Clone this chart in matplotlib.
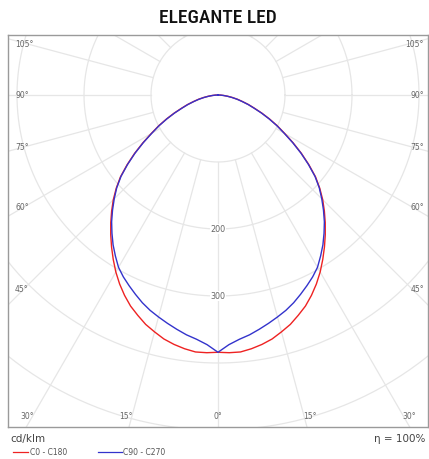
import numpy as np
import matplotlib
matplotlib.use('Agg')
import matplotlib.pyplot as plt
from matplotlib import font_manager
from matplotlib.lines import Line2D

# luminous intensity (cd/klm) vs gamma angle in degrees, symmetric halves
gamma = [0, 2.5, 5, 7.5, 10, 12.5, 15, 17.5, 20, 22.5, 25, 27.5, 30, 32.5, 35, 37.5, 40,
         42.5, 45, 47.5, 50, 52.5, 55, 57.5, 60, 62.5, 65, 67.5, 70, 72.5, 75, 77.5, 80,
         82.5, 85, 87.5, 90]
c0_c180 = [384, 385, 385, 382, 378, 373, 366, 359, 350, 341, 330, 318, 305, 291, 277, 263, 249,
           235, 221, 206, 190, 171, 152, 133, 115, 100, 85, 71, 58, 48, 38, 30, 22,
           15, 9, 4, 0]
c90_c270 = [384, 373, 366, 361, 355, 349, 343, 337, 330, 322, 314, 306, 297, 285, 273, 260, 247,
            233, 219, 205, 189, 170, 151, 132, 114, 99, 84, 70, 57, 47, 37, 29, 21,
            14, 8, 4, 0]

rings = [100, 200, 300, 400, 500, 600]
ring_labels = [200, 300]
spokes = np.arange(0, 360, 15)
bottom_ticks = [0, 15, 30]
side_ticks = [45, 60, 75, 90, 105]

W, H = 429, 460
S = 0.67  # px per cd/klm
OX, OY = 218, 96  # origin in px
BOX = (8, 36, 428, 428)  # left, top, right, bottom in px

names = {f.name for f in font_manager.fontManager.ttflist}
title_font = 'DejaVu Sans'
for cand in ['Roboto Condensed', 'Liberation Sans Narrow', 'DejaVu Sans']:
    if cand in names:
        title_font = cand
        break

fig = plt.figure(figsize=(W / 100, H / 100), dpi=100)
ax = fig.add_axes([BOX[0] / W, 1 - BOX[3] / H, (BOX[2] - BOX[0]) / W, (BOX[3] - BOX[1]) / H])
ax.set_xlim((BOX[0] - OX) / S, (BOX[2] - OX) / S)
ax.set_ylim((OY - BOX[3]) / S, (OY - BOX[1]) / S)
ax.set_xticks([])
ax.set_yticks([])
for sp in ax.spines.values():
    sp.set_color('#9a9a9a')
    sp.set_linewidth(1.0)

grid_col = '#e6e6e6'
t = np.linspace(0, 2 * np.pi, 400)
for r in rings:
    ax.plot(r * np.cos(t), r * np.sin(t), color=grid_col, lw=0.9, zorder=1)
for a in spokes:
    ar = np.radians(a)
    ax.plot([100 * np.sin(ar), 800 * np.sin(ar)], [-100 * np.cos(ar), -800 * np.cos(ar)],
            color=grid_col, lw=0.9, zorder=1)

for r in ring_labels:
    ax.text(0, -r, str(r), ha='center', va='center', fontsize=5.8, color='#666666',
            bbox=dict(boxstyle='square,pad=0.1', fc='white', ec='none'), zorder=2)

# angle labels
tick_kw = dict(fontsize=5.5, color='#666666', va='center', zorder=3)
xin = 193 / S
ybot = (OY - 417) / S
for a in bottom_ticks:
    xa = (319 / S) * np.tan(np.radians(a))
    if a == 0:
        ax.text(0, ybot, '0°', ha='center', **tick_kw)
    else:
        ax.text(-xa, ybot, f'{a}°', ha='right', **tick_kw)
        ax.text(xa, ybot, f'{a}°', ha='left', **tick_kw)
for a in side_ticks:
    ar = np.radians(a)
    ya = -xin * np.cos(ar) / np.sin(ar)
    ax.text((15 - OX) / S, ya, f'{a}°', ha='left', **tick_kw)
    ax.text((424 - OX) / S, ya, f'{a}°', ha='right', **tick_kw)


def curve(vals):
    g = np.radians(np.array(gamma))
    v = np.array(vals, dtype=float)
    g_all = np.concatenate([-g[::-1], g[1:]])
    v_all = np.concatenate([v[::-1], v[1:]])
    return v_all * np.sin(g_all), -v_all * np.cos(g_all)


x0, y0 = curve(c0_c180)
x1, y1 = curve(c90_c270)
ax.plot(x0, y0, color='#ee2222', lw=1.0, zorder=4)
ax.plot(x1, y1, color='#3333cc', lw=1.0, zorder=5)

fig.text(OX / W, 1 - 18 / H, 'ELEGANTE LED', ha='center', va='center', fontsize=14,
         family=title_font, fontstretch='condensed', weight='medium', color='#111111')

fig.text(10 / W, 1 - 439 / H, 'cd/klm', ha='left', va='center', fontsize=7.5, color='#444444')
fig.text(425 / W, 1 - 439 / H, 'η = 100%', ha='right', va='center', fontsize=7.5, color='#444444')

fig.add_artist(Line2D([13 / W, 28 / W], [1 - 453 / H] * 2, color='#ee2222', lw=0.9))
fig.text(30 / W, 1 - 453 / H, 'C0 - C180', ha='left', va='center', fontsize=5.5, color='#555555')
fig.add_artist(Line2D([98 / W, 122 / W], [1 - 453 / H] * 2, color='#3333cc', lw=0.9))
fig.text(123 / W, 1 - 453 / H, 'C90 - C270', ha='left', va='center', fontsize=5.5, color='#555555')

fig.savefig('out.png', dpi=100)
